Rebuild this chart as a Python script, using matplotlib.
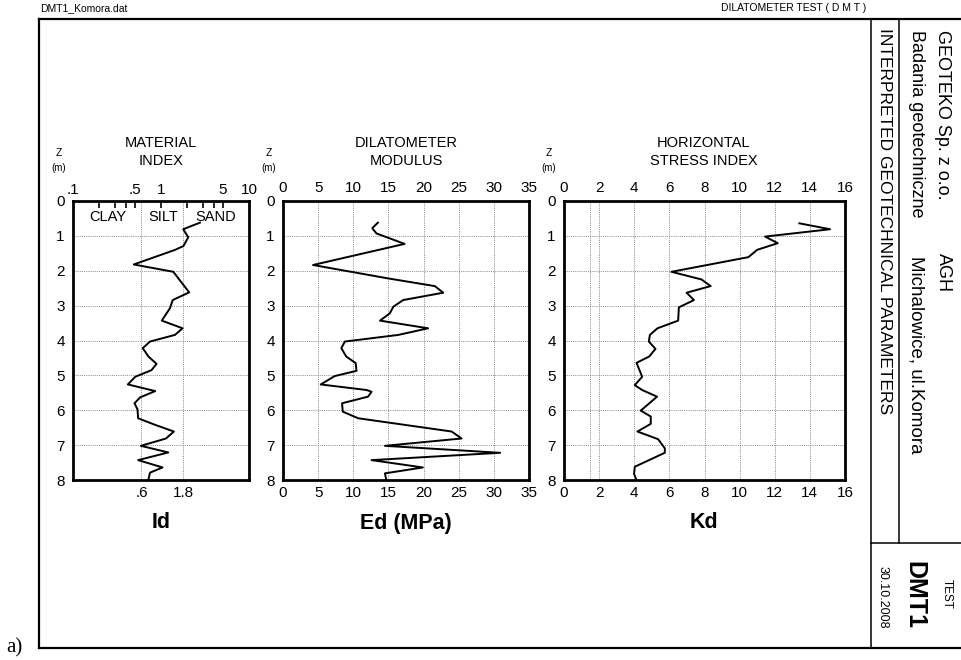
import matplotlib.pyplot as plt
import numpy as np
from matplotlib.lines import Line2D

plt.rcParams['font.family'] = ['Liberation Sans', 'DejaVu Sans']

# ------------------------------------------------------------------------------------------------------------------
# data read off the DMT log
id_depth = [0.62, 0.81, 1.04, 1.29, 1.40, 1.82, 2.03, 2.62, 2.84, 3.08, 3.43, 3.65, 3.84, 4.03, 4.22, 4.46, 4.67,
            4.85, 5.04, 5.26, 5.45, 5.63, 5.80, 5.97, 6.23, 6.42, 6.61, 6.81, 7.02, 7.21, 7.43, 7.64, 7.79, 7.98]
id_vals = [2.77, 1.79, 2.04, 1.80, 1.45, 0.49, 1.38, 2.09, 1.36, 1.26, 1.02, 1.76, 1.44, 0.75, 0.62, 0.72, 0.89,
           0.78, 0.51, 0.42, 0.86, 0.58, 0.50, 0.54, 0.55, 0.86, 1.40, 1.14, 0.59, 1.21, 0.55, 1.04, 0.75, 0.72]

ed_depth = [0.62, 0.78, 0.93, 1.23, 1.835, 2.22, 2.44, 2.63, 2.84, 3.03, 3.22, 3.43, 3.65, 3.84, 4.03, 4.22, 4.46,
            4.65, 4.87, 5.02, 5.26, 5.42, 5.47, 5.61, 5.80, 6.04, 6.23, 6.61, 6.81, 7.02, 7.22, 7.43, 7.64, 7.81, 8.0]
ed_vals = [13.5, 12.7, 13.3, 17.3, 4.27, 14.96, 21.6, 22.8, 17.1, 15.7, 15.2, 13.8, 20.65, 16.4, 8.8, 8.3, 9.0,
           10.35, 10.45, 7.36, 5.37, 11.9, 12.6, 12.1, 8.4, 8.5, 10.7, 24.0, 25.4, 14.5, 30.9, 12.6, 19.9, 14.5, 14.7]

kd_depth = [0.64, 0.81, 1.02, 1.21, 1.40, 1.61, 2.03, 2.25, 2.44, 2.63, 2.84, 3.05, 3.43, 3.65, 3.84, 4.03, 4.24,
            4.46, 4.64, 5.04, 5.28, 5.42, 5.61, 6.01, 6.18, 6.39, 6.61, 6.83, 7.09, 7.22, 7.62, 7.83, 8.0]
kd_vals = [13.4, 15.15, 11.45, 12.17, 11.0, 10.5, 6.12, 7.83, 8.35, 6.98, 7.4, 6.54, 6.5, 5.32, 4.89, 4.83, 5.21,
           4.85, 4.13, 4.45, 4.03, 4.45, 5.30, 4.37, 4.94, 4.94, 4.18, 5.36, 5.74, 5.74, 4.03, 3.99, 4.13]

depth_ticks = [0, 1, 2, 3, 4, 5, 6, 7, 8]
id_top_ticks = [0.1, 0.5, 1, 5, 10]
id_top_labels = ['.1', '.5', '1', '5', '10']
id_minor = [0.2, 0.3, 0.4, 0.5, 1, 2, 3, 4, 5]
id_bounds = [0.6, 1.8]
id_bound_labels = ['.6', '1.8']
soil_names = ['CLAY', 'SILT', 'SAND']
soil_pos = [0.25, 1.05, 4.2]
ed_ticks = [0, 5, 10, 15, 20, 25, 30, 35]
kd_ticks = [0, 2, 4, 6, 8, 10, 12, 14, 16]
kd_grid = [1.5, 2, 4, 6, 8, 10, 12, 14]

W, H = 961, 660
fig = plt.figure(figsize=(W / 100, H / 100), dpi=100)


def px_axes(x0, y0, x1, y1):
    return fig.add_axes([x0 / W, 1 - y1 / H, (x1 - x0) / W, (y1 - y0) / H])


def fx(x):
    return x / W


def fy(y):
    return 1 - y / H


grid_kw = dict(color='#888888', lw=0.7, ls=(0, (1, 1.2)), zorder=1)
tick_fs = 11


def setup_depth(ax):
    ax.set_ylim(8, 0)
    ax.set_yticks(depth_ticks)
    ax.tick_params(axis='y', length=0, pad=6, labelsize=tick_fs)
    for d in depth_ticks[1:-1]:
        ax.axhline(d, **grid_kw)
    for s in ax.spines.values():
        s.set_linewidth(2.0)
        s.set_zorder(5)


# ------------------------------------------------------------------------------------------------------------------
# Material index
ax1 = px_axes(73, 201, 249, 480)
ax1.set_xscale('log')
ax1.set_xlim(0.1, 10)
setup_depth(ax1)
ax1.set_xticks(id_top_ticks)
ax1.set_xticklabels(id_top_labels)
ax1.xaxis.set_minor_locator(plt.NullLocator())
ax1.tick_params(axis='x', top=False, bottom=False, labeltop=True, labelbottom=False, length=0, pad=3,
                labelsize=tick_fs)
for v in id_bounds:
    ax1.axvline(v, **grid_kw)
sec = ax1.secondary_xaxis('bottom')
sec.set_xticks(id_bounds)
sec.set_xticklabels(id_bound_labels)
sec.xaxis.set_minor_locator(plt.NullLocator())
sec.tick_params(length=0, pad=4, labelsize=tick_fs)
for s in sec.spines.values():
    s.set_visible(False)
sec2 = ax1.secondary_xaxis('top')
sec2.set_xticks(id_minor)
sec2.xaxis.set_minor_locator(plt.NullLocator())
sec2.tick_params(direction='in', length=5, width=1.2, labeltop=False)
for s in sec2.spines.values():
    s.set_visible(False)
for name, x in zip(soil_names, soil_pos):
    ax1.text(x, 0.45, name, ha='center', va='center', fontsize=10.5)
ax1.plot(id_vals, id_depth, color='black', lw=1.4, zorder=3)

# ------------------------------------------------------------------------------------------------------------------
# Dilatometer modulus
ax2 = px_axes(283, 201, 529, 480)
ax2.set_xlim(0, 35)
setup_depth(ax2)
ax2.set_xticks(ed_ticks)
ax2.tick_params(axis='x', length=0, labeltop=True, labelbottom=True, pad=4, labelsize=tick_fs)
for v in ed_ticks[1:-1]:
    ax2.axvline(v, **grid_kw)
ax2.plot(ed_vals, ed_depth, color='black', lw=1.4, zorder=3)

# ------------------------------------------------------------------------------------------------------------------
# Horizontal stress index
ax3 = px_axes(564, 201, 845, 480)
ax3.set_xlim(0, 16)
setup_depth(ax3)
ax3.set_xticks(kd_ticks)
ax3.tick_params(axis='x', length=0, labeltop=True, labelbottom=True, pad=4, labelsize=tick_fs)
for v in kd_grid:
    ax3.axvline(v, **grid_kw)
ax3.plot(kd_vals, kd_depth, color='black', lw=1.4, zorder=3)

# ------------------------------------------------------------------------------------------------------------------
# titles and labels
titles = ['MATERIAL\nINDEX', 'DILATOMETER\nMODULUS', 'HORIZONTAL\nSTRESS INDEX']
xlabels = ['Id', 'Ed (MPa)', 'Kd']
centers = [161, 406, 704]
zx = [59, 269, 549]
for t, lab, cx, z in zip(titles, xlabels, centers, zx):
    fig.text(fx(cx), fy(152), t, ha='center', va='center', fontsize=10.5, linespacing=1.35)
    fig.text(fx(cx), fy(523), lab, ha='center', va='center', fontsize=15.5, fontweight='bold')
    fig.text(fx(z), fy(153), 'Z', ha='center', va='center', fontsize=7.5)
    fig.text(fx(z), fy(168), '(m)', ha='center', va='center', fontsize=7)

fig.text(fx(40), fy(8), 'DMT1_Komora.dat', ha='left', va='center', fontsize=7.5)
fig.text(fx(866), fy(8), 'DILATOMETER TEST ( D M T )', ha='right', va='center', fontsize=7.5)
fig.text(fx(6), fy(648), 'a)', ha='left', va='center', fontsize=15, family=['Liberation Serif', 'DejaVu Serif'])

# frame and title block
frame = [
    ([39, 961], [19, 19], 1.6),
    ([39, 961], [648, 648], 1.6),
    ([39, 39], [19, 648], 1.6),
    ([871, 871], [19, 648], 1.1),
    ([899, 899], [19, 543], 1.1),
    ([871, 961], [543, 543], 1.1),
]
for xs, ys, lw in frame:
    fig.add_artist(Line2D([fx(x) for x in xs], [fy(y) for y in ys], color='black', lw=lw))

block = [
    (943, 30, 'GEOTEKO Sp. z o.o.', 13, 'normal', 'top'),
    (916, 30, 'Badania geotechniczne', 13, 'normal', 'top'),
    (943, 253, 'AGH', 13, 'normal', 'top'),
    (916, 256, 'Michalowice, ul.Komora', 13.5, 'normal', 'top'),
    (884, 28, 'INTERPRETED GEOTECHNICAL PARAMETERS', 12.5, 'normal', 'top'),
    (947, 594, 'TEST', 8.5, 'normal', 'center'),
    (914, 595, 'DMT1', 18, 'bold', 'center'),
    (883, 597, '30.10.2008', 9, 'normal', 'center'),
]
for x, y, t, fs, fw, va in block:
    fig.text(fx(x), fy(y), t, ha='center', va=va, rotation=-90, fontsize=fs, fontweight=fw)

fig.savefig('out.png', dpi=100)
